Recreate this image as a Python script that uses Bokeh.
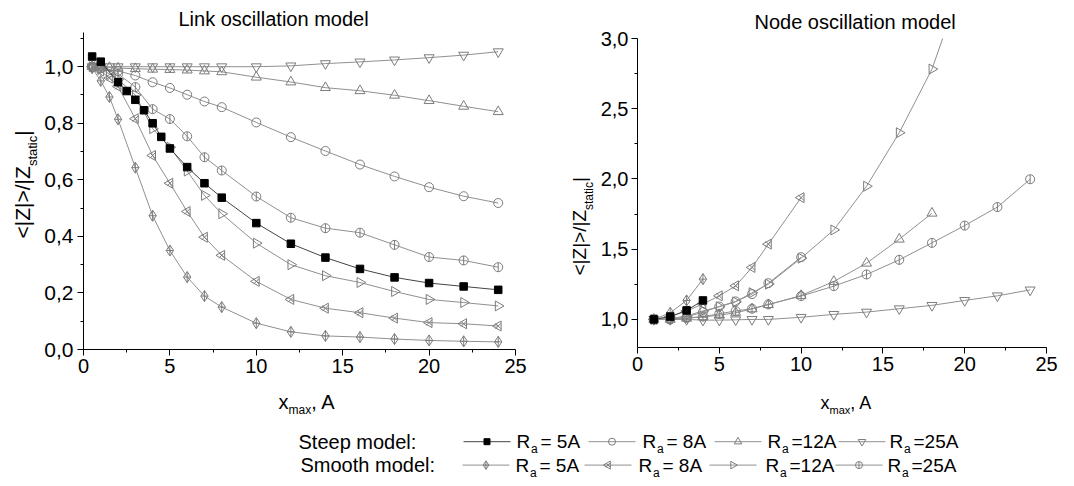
import math
from bokeh.plotting import figure
from bokeh.models import Range1d, FixedTicker, CustomJSTickFormatter, ColumnDataSource
from bokeh.layouts import column, row
from bokeh.core.properties import value
from bokeh.embed import file_html
from bokeh.resources import INLINE

FONT = "Liberation Sans"
LINE_GRAY = "#909090"
MARK_GRAY = "#7c7c7c"

# ---------------- data: Link oscillation model (left) ----------------
link_steep5_x = [0.5, 1, 2, 2.5, 3, 3.5, 4, 4.5, 5, 6, 7, 8, 10, 12, 14, 16, 18, 20, 22, 24]
link_steep5_y = [1.036, 1.018, 0.945, 0.914, 0.883, 0.846, 0.800, 0.752, 0.711, 0.645, 0.588,
                 0.537, 0.447, 0.374, 0.325, 0.285, 0.255, 0.235, 0.223, 0.211]
link_steep8_x = [0.5, 1, 2, 3, 4, 5, 6, 7, 8, 10, 12, 14, 16, 18, 20, 22, 24]
link_steep8_y = [1.0, 0.995, 0.985, 0.969, 0.945, 0.925, 0.901, 0.877, 0.857, 0.803, 0.751,
                 0.702, 0.654, 0.612, 0.574, 0.542, 0.518]
link_steep12_x = [0.5, 1, 1.5, 2, 3, 4, 5, 6, 7, 8, 10, 12, 14, 16, 18, 20, 22, 24]
link_steep12_y = [1.0, 0.998, 0.997, 0.995, 0.993, 0.991, 0.99, 0.988, 0.985, 0.982, 0.963,
                  0.946, 0.926, 0.915, 0.899, 0.880, 0.860, 0.841]
link_steep25_x = [0.5, 1, 1.5, 2, 3, 4, 5, 6, 7, 8, 10, 12, 14, 16, 18, 20, 22, 24]
link_steep25_y = [1.0, 1.0, 1.0, 1.0, 1.0, 1.0, 1.0, 1.0, 1.0, 1.0, 1.0, 1.003, 1.011, 1.017,
                  1.024, 1.032, 1.041, 1.053]
link_smooth5_x = [0.5, 1, 1.5, 2, 3, 4, 5, 6, 7, 8, 10, 12, 14, 16, 18, 20, 22, 24]
link_smooth5_y = [0.995, 0.95, 0.893, 0.814, 0.643, 0.473, 0.350, 0.256, 0.189, 0.150, 0.093,
                  0.0625, 0.048, 0.044, 0.037, 0.032, 0.029, 0.027]
link_smooth8_x = [0.5, 1, 1.5, 2, 3, 4, 5, 6, 7, 8, 10, 12, 14, 16, 18, 20, 22, 24]
link_smooth8_y = [1.0, 0.985, 0.96, 0.93, 0.816, 0.686, 0.588, 0.488, 0.397, 0.333, 0.241,
                  0.177, 0.146, 0.130, 0.111, 0.095, 0.091, 0.083]
link_smooth12_x = [0.5, 1, 1.5, 2, 3, 4, 5, 6, 7, 8, 10, 12, 14, 16, 18, 20, 22, 24]
link_smooth12_y = [1.0, 0.99, 0.975, 0.955, 0.90, 0.781, 0.715, 0.631, 0.545, 0.48, 0.376,
                   0.300, 0.261, 0.237, 0.205, 0.177, 0.166, 0.154]
link_smooth25_x = [0.5, 1, 2, 3, 4, 5, 6, 7, 8, 10, 12, 14, 16, 18, 20, 22, 24]
link_smooth25_y = [1.0, 0.995, 0.975, 0.928, 0.850, 0.815, 0.754, 0.680, 0.633, 0.541, 0.466,
                   0.429, 0.413, 0.370, 0.327, 0.315, 0.291]

# ---------------- data: Node oscillation model (right) ----------------
node_steep5_x = [1, 2, 3, 4]
node_steep5_y = [1.0, 1.02, 1.064, 1.135]
node_steep8_x = [1, 2, 3, 4, 5, 6, 7, 8, 10]
node_steep8_y = [1.0, 1.0, 1.017, 1.052, 1.092, 1.128, 1.18, 1.258, 1.443]
node_steep12_x = [1, 2, 3, 4, 5, 6, 7, 8, 10, 12, 14, 16, 18]
node_steep12_y = [1.0, 1.0, 1.008, 1.018, 1.03, 1.047, 1.075, 1.105, 1.17, 1.27, 1.40, 1.571, 1.756]
node_steep25_x = [1, 2, 3, 4, 5, 6, 7, 8, 10, 12, 14, 16, 18, 20, 22, 24]
node_steep25_y = [1.0, 1.0, 1.0, 0.995, 0.995, 0.997, 1.0, 1.0, 1.015, 1.036, 1.052, 1.076,
                  1.10, 1.135, 1.168, 1.21]
node_smooth5_x = [1, 2, 3, 4]
node_smooth5_y = [1.0, 1.047, 1.135, 1.287]
node_smooth8_x = [1, 2, 3, 4, 5, 6, 7, 8, 10]
node_smooth8_y = [1.0, 1.02, 1.06, 1.11, 1.168, 1.239, 1.37, 1.536, 1.867]
node_smooth12_x = [1, 2, 3, 4, 5, 6, 7, 8, 10, 12, 14, 16, 18, 20]
node_smooth12_y = [1.0, 1.005, 1.025, 1.06, 1.09, 1.125, 1.19, 1.251, 1.436, 1.637, 1.948,
                   2.329, 2.782, 3.45]
node_smooth25_x = [1, 2, 3, 4, 5, 6, 7, 8, 10, 12, 14, 16, 18, 20, 22, 24]
node_smooth25_y = [1.0, 1.0, 1.01, 1.02, 1.04, 1.06, 1.076, 1.107, 1.166, 1.237, 1.32, 1.424,
                   1.545, 1.668, 1.80, 1.998]

# ---------------- ticks / labels ----------------
x_ticks = [0, 5, 10, 15, 20, 25]
x_minor = [2.5, 7.5, 12.5, 17.5, 22.5]
link_y_ticks = [0.0, 0.2, 0.4, 0.6, 0.8, 1.0]
link_y_minor = [0.1, 0.3, 0.5, 0.7, 0.9, 1.1]
node_y_ticks = [1.0, 1.5, 2.0, 2.5, 3.0]
node_y_minor = [1.25, 1.75, 2.25, 2.75]

titles = ["Link oscillation model", "Node oscillation model"]
legend_groups = ["Steep model:", "Smooth model:"]
legend_suffix = ["= 5A", "= 8A", "=12A", "=25A"]

steep_kinds = ["square", "circle", "tri_up", "tri_down"]
smooth_kinds = ["diamond_cross", "bowtie", "tri_right", "circle_bar"]
MARK_SIZE = {"square": 7.5, "circle": 9, "tri_up": 10, "tri_down": 10,
             "diamond_cross": 11, "bowtie": 10, "tri_right": 10, "circle_bar": 9}


def no_align(p):
    try:
        p.frame_align = False
    except Exception:
        pass
    return p


def draw_markers(p, src, kind, size):
    common = dict(source=src, size=size, line_width=1)
    if kind == "square":
        p.scatter("x", "y", marker="square", fill_color="black", line_color="black", **common)
    elif kind == "circle":
        p.scatter("x", "y", marker="circle", fill_color=None, line_color=MARK_GRAY, **common)
    elif kind == "tri_up":
        p.scatter("x", "y", marker="triangle", fill_color=None, line_color=MARK_GRAY, **common)
    elif kind == "tri_down":
        p.scatter("x", "y", marker="inverted_triangle", fill_color=None, line_color=MARK_GRAY, **common)
    elif kind == "diamond_cross":
        p.scatter("x", "y", marker="diamond_cross", fill_color=None, line_color=MARK_GRAY, **common)
    elif kind == "bowtie":
        p.scatter("x", "y", marker="triangle", angle=math.pi / 2, fill_color=None,
                  line_color=MARK_GRAY, **common)
        p.scatter("x", "y", marker="x", source=src, size=size * 0.8, line_width=1,
                  line_color=MARK_GRAY)
    elif kind == "tri_right":
        p.scatter("x", "y", marker="triangle", angle=-math.pi / 2, fill_color=None,
                  line_color=MARK_GRAY, **common)
    elif kind == "circle_bar":
        p.scatter("x", "y", marker="circle", fill_color=None, line_color=MARK_GRAY, **common)
        p.scatter("x", "y", marker="dash", angle=math.pi / 2, source=src, size=size,
                  line_width=1, line_color=MARK_GRAY)


def add_series(p, xs, ys, kind):
    src = ColumnDataSource(dict(x=xs, y=ys))
    lc = "#444444" if kind == "square" else LINE_GRAY
    p.line("x", "y", source=src, line_color=lc, line_width=1)
    draw_markers(p, src, kind, MARK_SIZE[kind])


def style_axes(p, yticks, yminor, ysize, ystandoff):
    p.xaxis.ticker = FixedTicker(ticks=x_ticks, minor_ticks=x_minor)
    p.yaxis.ticker = FixedTicker(ticks=yticks, minor_ticks=yminor)
    p.xaxis.formatter = CustomJSTickFormatter(code="return tick.toFixed(0)")
    p.yaxis.formatter = CustomJSTickFormatter(code="return tick.toFixed(1).replace('.', ',')")
    for ax in (p.xaxis, p.yaxis):
        ax.axis_line_color = "black"
        ax.axis_line_width = 1
        ax.major_tick_line_color = "black"
        ax.minor_tick_line_color = "black"
        ax.major_tick_in = 0
        ax.major_tick_out = 6
        ax.minor_tick_in = 0
        ax.minor_tick_out = 3
        ax.major_label_text_font = FONT
        ax.major_label_text_color = "black"
    p.xaxis.major_label_text_font_size = "20px"
    p.yaxis.major_label_text_font_size = ysize
    p.xaxis.major_label_standoff = 3
    p.yaxis.major_label_standoff = ystandoff
    p.grid.visible = False
    p.outline_line_color = None
    p.background_fill_color = "white"
    p.border_fill_color = "white"


def strip(x0, x1, y0, y1):
    """A text-only figure covering page pixels [x0,x1] x [y0,y1]; data y = -page y."""
    f = figure(width=x1 - x0, height=y1 - y0, x_range=Range1d(x0, x1),
               y_range=Range1d(-y1, -y0), min_border=0, toolbar_location=None,
               output_backend="svg", title_location=None,
               x_axis_location=None, y_axis_location=None)
    f.grid.visible = False
    f.outline_line_color = None
    f.background_fill_color = "white"
    f.border_fill_color = "white"
    return no_align(f)


def txt(f, x, y, s, size, angle=0.0):
    f.text(x=[x], y=[-y], text=[s], text_font=value(FONT), text_font_size=size,
           text_color="black", text_align="left", text_baseline="middle", angle=angle)


# ---------------- top strip (left): title ----------------
top1 = strip(0, 540, 0, 32)
txt(top1, 178, 18.5, titles[0], "20px")

# ---------------- left y-label strip ----------------
ylab1 = strip(0, 41, 32, 383)
A = math.pi / 2
txt(ylab1, 21.9, 238, "<|Z|>/|Z", "21px", A)
txt(ylab1, 32.0, 165.6, "static", "13px", A)
txt(ylab1, 21.9, 135.3, "|", "21px", A)

# ---------------- left figure ----------------
p1 = figure(width=499, height=351, min_border_left=41, min_border_right=25,
            min_border_top=0, min_border_bottom=34, x_range=Range1d(0, 25),
            y_range=Range1d(0, 1.121), toolbar_location=None, output_backend="svg",
            title_location=None)
no_align(p1)
style_axes(p1, link_y_ticks, link_y_minor, "21px", 4)
link_series = [
    (link_steep25_x, link_steep25_y, "tri_down"),
    (link_steep12_x, link_steep12_y, "tri_up"),
    (link_steep8_x, link_steep8_y, "circle"),
    (link_smooth25_x, link_smooth25_y, "circle_bar"),
    (link_smooth12_x, link_smooth12_y, "tri_right"),
    (link_smooth8_x, link_smooth8_y, "bowtie"),
    (link_smooth5_x, link_smooth5_y, "diamond_cross"),
    (link_steep5_x, link_steep5_y, "square"),
]
for xs, ys, k in link_series:
    add_series(p1, xs, ys, k)

# ---------------- right y-label strip ----------------
ylab2 = strip(540, 597, 0, 383)
txt(ylab2, 579.4, 275, "<|Z|>/|Z", "19px", A)
txt(ylab2, 588.3, 209.5, "static", "12px", A)
txt(ylab2, 579.4, 181.5, "|", "19px", A)

# ---------------- right figure (with its own title) ----------------
p2 = figure(width=469, height=383, min_border_left=37, min_border_right=20,
            min_border_top=38, min_border_bottom=36, x_range=Range1d(0, 25),
            y_range=Range1d(0.8, 3.0), toolbar_location=None, output_backend="svg",
            title=titles[1])
no_align(p2)
p2.title.text_font = FONT
p2.title.text_font_size = "20px"
p2.title.text_font_style = "normal"
p2.title.text_color = "black"
p2.title.align = "left"
p2.title.offset = 117
p2.title.standoff = 12
style_axes(p2, node_y_ticks, node_y_minor, "20px", 3)
node_series = [
    (node_steep25_x, node_steep25_y, "tri_down"),
    (node_steep12_x, node_steep12_y, "tri_up"),
    (node_smooth25_x, node_smooth25_y, "circle_bar"),
    (node_smooth12_x, node_smooth12_y, "tri_right"),
    (node_steep8_x, node_steep8_y, "circle"),
    (node_smooth8_x, node_smooth8_y, "bowtie"),
    (node_smooth5_x, node_smooth5_y, "diamond_cross"),
    (node_steep5_x, node_steep5_y, "square"),
]
for xs, ys, k in node_series:
    add_series(p2, xs, ys, k)

# ---------------- bottom strip: x labels + legend ----------------
bot = strip(0, 1066, 383, 482)
# left x label
txt(bot, 278, 401.5, "x", "20px")
txt(bot, 288, 409.3, "max", "12px")
txt(bot, 310.7, 401.5, ", A", "20px")
# right x label
txt(bot, 820, 402, "x", "18px")
txt(bot, 829, 409.4, "max", "11px")
txt(bot, 849.8, 402, ", A", "18px")

rows = [
    dict(group=legend_groups[0], gx=298, my=441.2,
         lx=[463, 588, 714, 838], rx=[516, 642, 767, 889], kinds=steep_kinds),
    dict(group=legend_groups[1], gx=300, my=464.6,
         lx=[462, 584, 709, 835], rx=[515, 638, 765, 887], kinds=smooth_kinds),
]
LEG_SIZE = {"square": 6, "circle": 7, "tri_up": 7.5, "tri_down": 7.5,
            "diamond_cross": 8.5, "bowtie": 8, "tri_right": 7.5, "circle_bar": 7}
for r in rows:
    txt(bot, r["gx"], r["my"], r["group"], "20px")
    for i, k in enumerate(r["kinds"]):
        x0 = r["lx"][i]
        lc = "#444444" if k == "square" else LINE_GRAY
        bot.line([x0, x0 + 47], [-r["my"], -r["my"]], line_color=lc, line_width=1)
        src = ColumnDataSource(dict(x=[x0 + 23.5], y=[-r["my"]]))
        draw_markers(bot, src, k, LEG_SIZE[k])
        rx = r["rx"][i]
        txt(bot, rx, r["my"], "R", "19px")
        txt(bot, rx + 14.5, r["my"] + 7.4, "a", "12px")
        txt(bot, rx + 24, r["my"], legend_suffix[i], "19px")

upper = row(column(top1, row(ylab1, p1)), ylab2, p2)
layout = column(upper, bot)
open("out.html", "w").write(file_html(layout, INLINE))
